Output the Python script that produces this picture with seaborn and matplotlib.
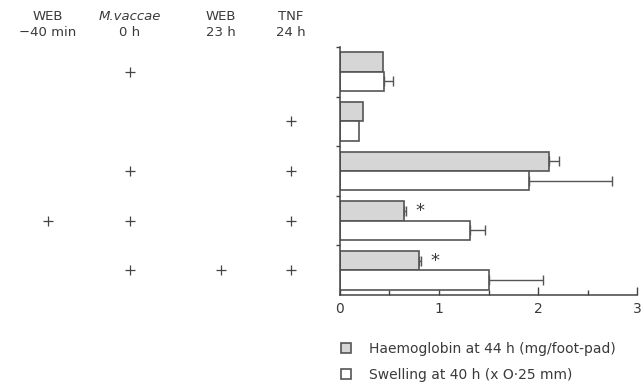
import numpy as np
import pandas as pd
import matplotlib
matplotlib.use("Agg")
import matplotlib.pyplot as plt
from matplotlib.patches import Patch
import seaborn as sns

# ---------------- data ----------------
groups = ["1", "2", "3", "4", "5"]
haemoglobin = [0.43, 0.235, 2.11, 0.65, 0.80]
haem_err = [0.0, 0.0, 0.10, 0.015, 0.015]
swelling = [0.445, 0.195, 1.91, 1.31, 1.51]
swell_err = [0.095, 0.0, 0.84, 0.15, 0.54]
significant = [False, False, False, True, True]

col_titles = ["WEB", "M.vaccae", "WEB", "TNF"]
col_times = ["\u221240 min", "0 h", "23 h", "24 h"]
web_40 = [0, 0, 0, 1, 0]
m_vaccae = [1, 0, 1, 1, 1]
web_23 = [0, 0, 0, 0, 1]
tnf_24 = [0, 1, 1, 1, 1]
treatments = [web_40, m_vaccae, web_23, tnf_24]

series = ["Haemoglobin at 44 h (mg/foot-pad)", "Swelling at 40 h (x O\u00b725 mm)"]
x_ticks = [0, 1, 2, 3]
x_minor = [0.5, 1.5, 2.5]

# ---------------- style ----------------
sns.set_style("white")
plt.rcParams["font.family"] = ["DejaVu Sans"]
ink = "#3a3a3a"
gray_fill = "#d6d6d6"

W, H = 642, 385
fig = plt.figure(figsize=(W / 100, H / 100), dpi=100)

def fx(px):
    return px / W

def fy(py):
    return 1 - py / H

ax_top, ax_bot = 47, 295
ax = fig.add_axes([fx(340), fy(ax_bot), fx(637) - fx(340), fy(ax_top) - fy(ax_bot)])

df = pd.DataFrame({
    "group": groups * 2,
    "value": haemoglobin + swelling,
    "series": [series[0]] * len(groups) + [series[1]] * len(groups),
})
sns.barplot(data=df, y="group", x="value", hue="series", orient="h",
            palette=[gray_fill, "white"], width=0.78, dodge=True,
            edgecolor="#555555", linewidth=1.2, legend=False, ax=ax,
            errorbar=None, saturation=1)

for cont, errs in zip(ax.containers, [haem_err, swell_err]):
    for bar, e in zip(cont, errs):
        if e > 0:
            yc = bar.get_y() + bar.get_height() / 2
            ax.errorbar([bar.get_width()], [yc], xerr=[[0], [e]], fmt="none",
                        ecolor="#555555", elinewidth=1.0, capsize=3.5, capthick=1.0)

for bar, sig in zip(ax.containers[0], significant):
    if sig:
        yc = bar.get_y() + bar.get_height() / 2
        ax.text(bar.get_width() + 0.16, yc, "*", ha="center", va="center",
                fontsize=13, color=ink)

ax.set_xlim(0, 3)
ax.set_ylim(4.5, -0.5)
ax.set_xticks(x_ticks)
ax.set_xticklabels([str(t) for t in x_ticks])
ax.set_xticks(x_minor, minor=True)
ax.set_yticks([-0.5, 0.5, 1.5, 2.5, 3.5])
ax.set_yticklabels([])
ax.set_xlabel("")
ax.set_ylabel("")
for s in ["top", "right"]:
    ax.spines[s].set_visible(False)
for s in ["left", "bottom"]:
    ax.spines[s].set_color("#444444")
    ax.spines[s].set_linewidth(1.1)
ax.tick_params(axis="x", which="major", direction="in", length=6, width=1.0,
               color="#444444", labelsize=10, labelcolor=ink, pad=5, bottom=True)
ax.tick_params(axis="x", which="minor", direction="in", length=3.5, width=1.0,
               color="#444444", bottom=True)
ax.tick_params(axis="y", which="major", direction="out", length=3, width=1.0,
               color="#444444", left=True)

# ---------------- treatment table ----------------
ax_t = fig.add_axes([0, fy(ax_bot), fx(330), fy(ax_top) - fy(ax_bot)], sharey=ax)
ax_t.set_xlim(0, 330)
ax_t.axis("off")
col_x = [48, 130, 221, 291]
for cx, flags in zip(col_x, treatments):
    rows = [i for i, f in enumerate(flags) if f]
    ax_t.scatter([cx] * len(rows), rows, marker="+", s=60, linewidths=0.9,
                 color="#444444")
ax_t.set_ylim(4.5, -0.5)

for cx, title, tm in zip(col_x, col_titles, col_times):
    style = "italic" if title.startswith("M.") else "normal"
    fig.text(fx(cx), fy(16), title, ha="center", va="center", fontsize=9.5,
             color=ink, style=style)
    fig.text(fx(cx), fy(32), tm, ha="center", va="center", fontsize=9.5,
             color=ink)

# ---------------- legend ----------------
handles = [Patch(facecolor=gray_fill, edgecolor="#555555", linewidth=1.2),
           Patch(facecolor="white", edgecolor="#555555", linewidth=1.2)]
ax.legend(handles, series, loc="upper left", bbox_to_anchor=(fx(341), fy(342)),
          bbox_transform=fig.transFigure, frameon=False, handlelength=0.7,
          handleheight=0.7, handletextpad=1.3, labelspacing=0.85, borderpad=0,
          borderaxespad=0, fontsize=10, labelcolor=ink)

fig.savefig("out.png", dpi=100)
